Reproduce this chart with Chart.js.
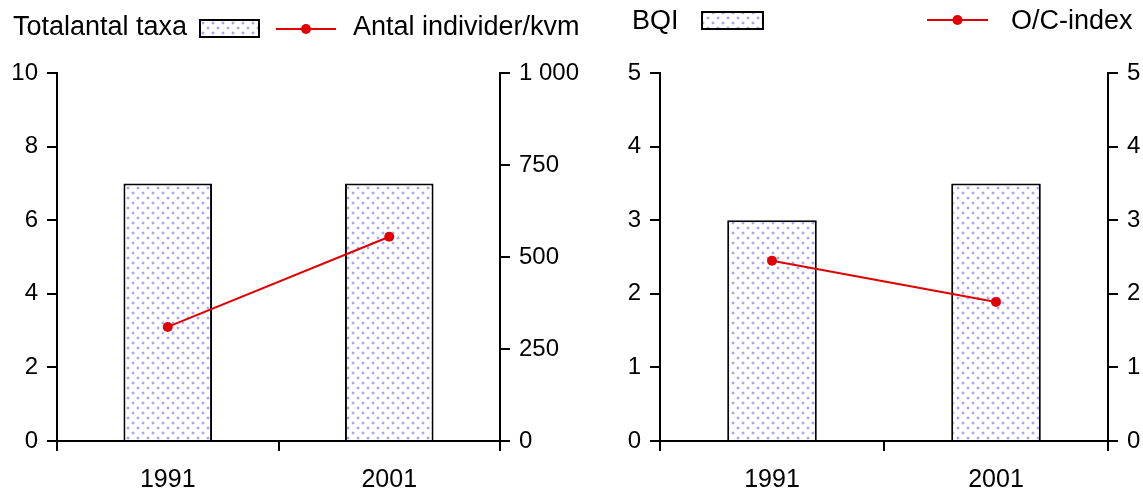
<!DOCTYPE html>
<html>
<head>
<meta charset="utf-8">
<script src="https://cdn.jsdelivr.net/npm/chart.js@4"></script>
<style>
  html, body { margin: 0; padding: 0; background: #fff; }
  #wrap { position: relative; width: 1143px; height: 493px; overflow: hidden; }
  canvas { position: absolute; top: 0; }
</style>
</head>
<body>
<div id="wrap">
  <canvas id="leftChart" width="600" height="493" style="left:0"></canvas>
  <canvas id="rightChart" width="543" height="493" style="left:600px"></canvas>
</div>
<script>
const years = ['1991', '2001'];
const totalantalTaxa = [7, 7];
const antalIndivider = [310, 555];
const bqi = [3.0, 3.5];
const ocIndex = [2.45, 1.89];

const FONT = '"Liberation Sans", Arial, sans-serif';
const RED = '#e00000';

function dotPattern() {
    const tile = document.createElement('canvas');
    tile.width = 10;
    tile.height = 10;
    const g = tile.getContext('2d');
    g.fillStyle = '#fff';
    g.fillRect(0, 0, 10, 10);
    g.fillStyle = '#e4e4ff';
    g.fillRect(1, 2, 4, 2);
    g.fillRect(2, 1, 2, 4);
    g.fillRect(6, 7, 4, 2);
    g.fillRect(7, 6, 2, 4);
    g.fillStyle = '#a6a6ff';
    g.fillRect(2, 2, 2, 2);
    g.fillRect(7, 7, 2, 2);
    return g.createPattern(tile, 'repeat');
}
const pattern = dotPattern();

// legend drawn onto the canvas, items in canvas pixels
function legendPlugin(items) {
    return {
        id: 'legendDraw',
        afterDraw(chart) {
            const ctx = chart.ctx;
            ctx.save();
            ctx.font = '27px ' + FONT;
            ctx.textBaseline = 'middle';
            items.forEach(it => {
                if (it.kind === 'text') {
                    ctx.fillStyle = '#000';
                    ctx.fillText(it.text, it.x, it.y);
                } else if (it.kind === 'box') {
                    ctx.fillStyle = pattern;
                    ctx.fillRect(it.x, it.y, it.w, it.h);
                    ctx.strokeStyle = '#000';
                    ctx.lineWidth = 2;
                    ctx.strokeRect(it.x, it.y, it.w, it.h);
                } else if (it.kind === 'line') {
                    ctx.strokeStyle = RED;
                    ctx.lineWidth = 2;
                    ctx.beginPath();
                    ctx.moveTo(it.x1, it.y);
                    ctx.lineTo(it.x2, it.y);
                    ctx.stroke();
                    ctx.fillStyle = RED;
                    ctx.beginPath();
                    ctx.arc((it.x1 + it.x2) / 2, it.y, 5, 0, Math.PI * 2);
                    ctx.fill();
                }
            });
            ctx.restore();
        }
    };
}

const fmt = v => String(v).replace(/\B(?=(\d{3})+(?!\d))/g, ' ');

function yAxis(position, max, step, width) {
    return {
        type: 'linear',
        position: position,
        min: 0,
        max: max,
        ticks: { stepSize: step, color: '#000', font: { family: FONT, size: 24 }, padding: 9, callback: fmt },
        grid: { drawOnChartArea: false, tickLength: 10, color: '#000', lineWidth: 2 },
        border: { color: '#000', width: 2 },
        afterFit: s => { s.width = width; }
    };
}

function makeChart(id, opts) {
    const ctx = document.getElementById(id).getContext('2d');
    return new Chart(ctx, {
        type: 'bar',
        data: {
            labels: years,
            datasets: [{
                type: 'line',
                label: opts.lineLabel,
                data: opts.lineData,
                yAxisID: 'y1',
                borderColor: RED,
                borderWidth: 2,
                pointRadius: 5,
                pointBackgroundColor: RED,
                pointBorderWidth: 0,
                order: 0
            }, {
                label: opts.barLabel,
                data: opts.barData,
                yAxisID: 'y',
                backgroundColor: pattern,
                borderColor: '#000',
                borderWidth: 2,
                borderSkipped: 'start',
                categoryPercentage: 1,
                barPercentage: 0.4,
                order: 1
            }]
        },
        options: {
            responsive: false,
            animation: false,
            layout: { padding: { top: 73, left: 0, right: 0, bottom: 0 } },
            plugins: { legend: { display: false }, tooltip: { enabled: false } },
            scales: {
                x: {
                    ticks: { color: '#000', font: { family: FONT, size: 25 }, padding: 14 },
                    grid: { offset: true, drawOnChartArea: false, tickLength: 10, color: '#000', lineWidth: 2 },
                    border: { color: '#000', width: 2 },
                    afterFit: s => { s.height = 52; }
                },
                y: yAxis('left', opts.leftMax, opts.leftStep, opts.leftWidth),
                y1: yAxis('right', opts.rightMax, opts.rightStep, opts.rightWidth)
            }
        },
        plugins: [legendPlugin(opts.legend)]
    });
}

makeChart('leftChart', {
    barLabel: 'Totalantal taxa', barData: totalantalTaxa,
    lineLabel: 'Antal individer/kvm', lineData: antalIndivider,
    leftMax: 10, leftStep: 2, leftWidth: 57,
    rightMax: 1000, rightStep: 250, rightWidth: 100,
    legend: [
        { kind: 'text', text: 'Totalantal taxa', x: 13, y: 28 },
        { kind: 'box', x: 200, y: 20, w: 59, h: 17 },
        { kind: 'line', x1: 276, x2: 336, y: 29 },
        { kind: 'text', text: 'Antal individer/kvm', x: 353, y: 28 }
    ]
});

makeChart('rightChart', {
    barLabel: 'BQI', barData: bqi,
    lineLabel: 'O/C-index', lineData: ocIndex,
    leftMax: 5, leftStep: 1, leftWidth: 60,
    rightMax: 5, rightStep: 1, rightWidth: 35,
    legend: [
        { kind: 'text', text: 'BQI', x: 32, y: 22 },
        { kind: 'box', x: 102, y: 12, w: 61, h: 17 },
        { kind: 'line', x1: 327, x2: 388, y: 20 },
        { kind: 'text', text: 'O/C-index', x: 411, y: 22 }
    ]
});
</script>
</body>
</html>
